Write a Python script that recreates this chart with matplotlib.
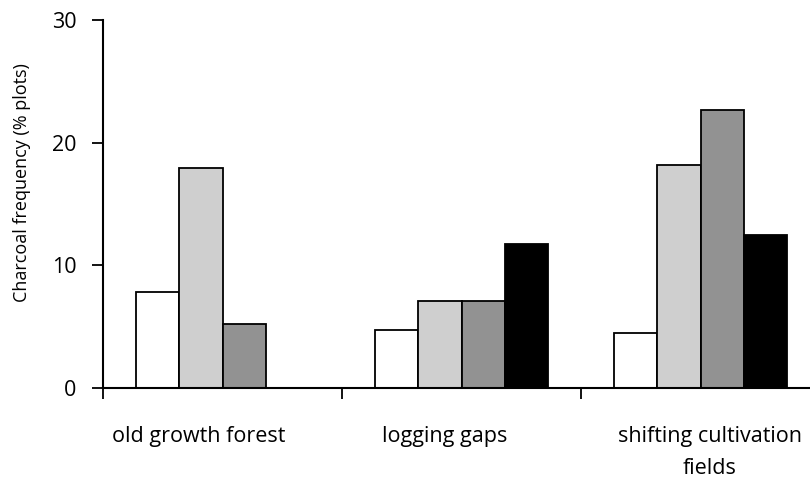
import numpy as np
import matplotlib.pyplot as plt

plt.rcParams['font.family'] = ['Open Sans', 'DejaVu Sans']

# data
groups = ["old growth forest", "logging gaps", "shifting cultivation\nfields"]
series_a = [7.8, 4.7, 4.5]      # white
series_b = [17.9, 7.1, 18.2]    # light grey
series_c = [5.2, 7.1, 22.7]     # dark grey
series_d = [0.0, 11.7, 12.5]    # black
yticks = [0, 10, 20, 30]

colors = ['white', '#cfcfcf', '#929292', '#000000']
all_series = [series_a, series_b, series_c, series_d]

fig = plt.figure(figsize=(8.10, 4.79), dpi=100)
ax = fig.add_axes([103 / 810, 1 - 388 / 479, (820 - 103) / 810, 368 / 479])

x = np.arange(len(groups))
w = 0.18
for i, (vals, c) in enumerate(zip(all_series, colors)):
    ax.bar(x + (i - 1.5) * w, vals, width=w, color=c, edgecolor='black',
           linewidth=1.3, zorder=2)

ax.set_xlim(-0.5, 2.5)
ax.set_ylim(0, 30)
ax.set_yticks(yticks)
ax.set_xticks([-0.5, 0.5, 1.5, 2.5])
ax.set_xticklabels([])
ax.tick_params(axis='y', direction='out', length=8, width=1.3, labelsize=15.5, pad=11)
ax.tick_params(axis='x', direction='out', length=8, width=1.3)
for s in ['top', 'right']:
    ax.spines[s].set_visible(False)
for s in ['left', 'bottom']:
    ax.spines[s].set_linewidth(1.5)
    ax.spines[s].set_zorder(3)

# category labels sit under each group, a bit off centre as in the original
label_shift = [-0.1, -0.07, 0.04]
for g, name in enumerate(groups):
    ax.text(g + label_shift[g], -3.1, name, ha='center', va='top',
            fontsize=15.5, linespacing=1.7)

ax.set_ylabel("Charcoal frequency (% plots)", fontsize=13)
ax.yaxis.set_label_coords(-0.101, 0.557)

fig.savefig('out.png', dpi=100)
